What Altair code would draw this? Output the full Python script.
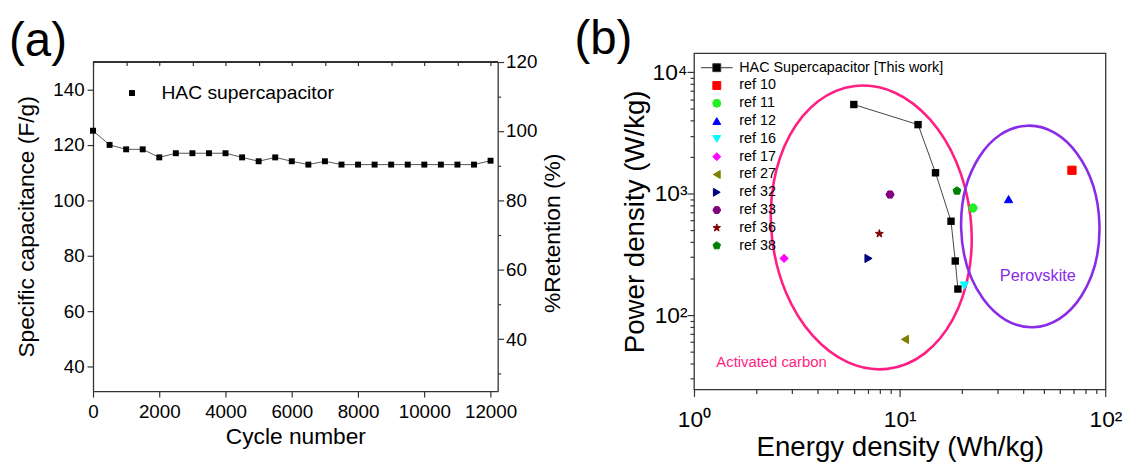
import altair as alt
import pandas as pd

# ---------------- panel (a) data ----------------
cycles = [0, 500, 1000, 1500, 2000, 2500, 3000, 3500, 4000, 4500, 5000, 5500, 6000,
          6500, 7000, 7500, 8000, 8500, 9000, 9500, 10000, 10500, 11000, 11500, 12000]
capacitance = [125.1, 120.0, 118.4, 118.4, 115.5, 117.0, 117.0, 117.0, 117.0, 115.5, 114.1, 115.5, 114.1,
               112.9, 114.1, 112.9, 112.9, 112.9, 112.9, 112.9, 112.9, 112.9, 112.9, 112.9, 114.3]
series_a = "HAC supercapacitor"

# ---------------- panel (b) data ----------------
hac_label = "HAC Supercapacitor [This work]"
hac_energy = [5.98, 12.27, 14.92, 17.75, 18.61, 19.17]
hac_power = [5420, 3703, 1486, 593, 279, 164]

ref_labels = ["ref 10", "ref 11", "ref 12", "ref 16", "ref 17", "ref 27", "ref 32", "ref 33", "ref 36", "ref 38"]
ref_energy = [68.7, 22.7, 33.8, 20.6, 2.74, 10.6, 7.05, 8.97, 7.96, 18.97]
ref_power = [1558, 762, 902, 175, 293, 63.1, 293, 984, 468, 1055]

region_labels = ["Activated carbon", "Perovskite"]
region_energy = [7.27, 43.1]        # ellipse centres
region_power = [527, 537]
region_text_energy = [1.284, 46.9]  # label anchors
region_text_power = [41.4, 210.5]

# ---------------- styles ----------------
FONT = "Liberation Sans"
FRAME = "#333333"
ref_colors = ["#FF0000", "#22EE22", "#0000FF", "#00FFFF", "#FF00FF", "#808000",
              "#000080", "#800080", "#800000", "#008000"]
HEX = "M1,0L0.5,0.866L-0.5,0.866L-1,0L-0.5,-0.866L0.5,-0.866Z"
STAR = ("M0,-1L0.235,-0.324L0.951,-0.309L0.38,0.124L0.588,0.809L0,0.4"
        "L-0.588,0.809L-0.38,0.124L-0.951,-0.309L-0.235,-0.324Z")
PENT = "M0,-1L0.951,-0.309L0.588,0.809L-0.588,0.809L-0.951,-0.309Z"
HAC_SYMBOL = "M-4,0H-1M1,0H4M-1,-1H1V1H-1Z"
ref_shapes = ["square", "circle", "triangle-up", "triangle-down", "diamond",
              "triangle-left", "triangle-right", HEX, STAR, PENT]
PINK = "#FF1F84"
PURPLE = "#8A2BE8"


def ellipse_path(rx):
    k = 0.5523
    return (f"M0,-1C{k*rx:.4f},-1,{rx:.4f},{-k:.4f},{rx:.4f},0"
            f"C{rx:.4f},{k:.4f},{k*rx:.4f},1,0,1"
            f"C{-k*rx:.4f},1,{-rx:.4f},{k:.4f},{-rx:.4f},0"
            f"C{-rx:.4f},{-k:.4f},{-k*rx:.4f},-1,0,-1Z")


major_test_a = "datum.value % 2000 == 0"
decade_test = "abs(round(log(datum.value)/LN10) - log(datum.value)/LN10) < 1e-6"

# ================= panel (a) =================
# panel (a) sits 8.6 px lower than panel (b): its y range starts below the group top
H_A = 342.0
TOP_A = 8.6
df_a = pd.DataFrame({"cycle": cycles, "cap": capacitance, "series": [series_a] * len(cycles)})
base_a = alt.Chart(df_a)
x_scale_a = alt.Scale(domain=[0, 12215], nice=False, zero=False)
y_scale_a = alt.Scale(domain=[31.25, 150], nice=False, zero=False, range=[H_A, TOP_A])

x_axis_a = alt.Axis(
    values=list(range(0, 12001, 1000)),
    labelExpr=f"{major_test_a} ? format(datum.value, 'd') : ''",
    tickSize={"condition": {"test": major_test_a, "value": 6}, "value": 3},
    labelFontSize=19, labelPadding=6, title="Cycle number", titleFontSize=23,
    titlePadding=4, labelFlush=False, labelOverlap=False,
    domain=True, domainColor=FRAME, domainWidth=1.3)
y_axis_a = alt.Axis(
    values=list(range(40, 151, 10)),
    labelExpr="datum.value % 20 == 0 ? format(datum.value, 'd') : ''",
    tickSize={"condition": {"test": "datum.value % 20 == 0", "value": 6}, "value": 3},
    labelFontSize=19, labelPadding=3, title="Specific capacitance (F/g)", titleFontSize=23,
    titlePadding=15, labelOverlap=False, domain=True, domainColor=FRAME, domainWidth=1.3)

line_a = base_a.mark_line(color="#555555", strokeWidth=1).encode(
    x=alt.X("cycle:Q", scale=x_scale_a, axis=x_axis_a),
    y=alt.Y("cap:Q", scale=y_scale_a, axis=y_axis_a))

legend_a = alt.Legend(title=None, orient="none", legendX=29.7, legendY=22 + TOP_A, labelFontSize=19.5,
                      labelFont=FONT, symbolSize=36, labelOffset=20, padding=0, labelLimit=400,
                      symbolStrokeWidth=0, labelColor="black")
pts_a = base_a.mark_point(filled=True, size=36, opacity=1).encode(
    x=alt.X("cycle:Q"), y=alt.Y("cap:Q"),
    shape=alt.Shape("series:N", scale=alt.Scale(domain=[series_a], range=["square"]), legend=legend_a),
    color=alt.Color("series:N", scale=alt.Scale(domain=[series_a], range=["black"]), legend=legend_a))

top_frame_a = base_a.mark_rule(color=FRAME, strokeWidth=1.3).encode(y=alt.datum(150))

main_a = alt.layer(line_a, pts_a, top_frame_a)

ret_a = base_a.transform_calculate(ret="datum.cap / 125 * 100").mark_point(opacity=0).encode(
    x=alt.X("cycle:Q", scale=x_scale_a, axis=None),
    y=alt.Y("ret:Q", scale=alt.Scale(domain=[25, 120], nice=False, zero=False, range=[H_A, TOP_A]),
            axis=alt.Axis(orient="right", values=list(range(30, 121, 10)),
                          labelExpr="datum.value % 20 == 0 ? format(datum.value, 'd') : ''",
                          tickSize={"condition": {"test": "datum.value % 20 == 0", "value": 6}, "value": 3},
                          labelFontSize=19, labelPadding=2, title="%Retention (%)", titleFontSize=23,
                          titleAngle=270, titleX=55.3, titleY=181.8, titleAlign="center",
                          titleBaseline="middle", labelOverlap=False,
                          domain=True, domainColor=FRAME, domainWidth=1.3)))

top_a = base_a.mark_point(opacity=0).encode(
    x=alt.X("cycle:Q", scale=x_scale_a,
            axis=alt.Axis(orient="top", values=list(range(0, 12001, 1000)), labels=False,
                          tickSize=4, offset=-(TOP_A + 4), domain=False, title=None)),
    y=alt.Y("cap:Q", scale=y_scale_a, axis=None))

label_a = alt.Chart(pd.DataFrame({"t": ["(a)"]})).mark_text(
    align="left", baseline="alphabetic", fontSize=48, font=FONT, color="black").encode(
    text="t:N", x=alt.value(-85), y=alt.value(3.3))

left = alt.layer(main_a, ret_a, top_a, label_a).resolve_scale(
    x="independent", y="independent").properties(
    width=409.4, height=H_A, view=alt.ViewBackground(stroke="transparent"))

# ================= panel (b) =================
x_scale_b = alt.Scale(type="log", domain=[1, 100], nice=False)
y_scale_b = alt.Scale(type="log", domain=[24.4, 14360], nice=False)
x_vals_b = [1, 2, 3, 4, 5, 6, 7, 8, 9, 10, 20, 30, 40, 50, 60, 70, 80, 90, 100]
y_vals_b = [30, 40, 50, 60, 70, 80, 90, 100, 200, 300, 400, 500, 600, 700, 800, 900,
            1000, 2000, 3000, 4000, 5000, 6000, 7000, 8000, 9000, 10000]
sup_expr = ("datum.value == 1 ? '10\u2070' : datum.value == 10 ? '10\u00b9' : "
            "datum.value == 100 ? '10\u00b2' : datum.value == 1000 ? '10\u00b3' : "
            "datum.value == 10000 ? '10\u2074' : ''")

x_axis_b = alt.Axis(values=x_vals_b, labelExpr=sup_expr,
                    tickSize={"condition": {"test": decade_test, "value": 7}, "value": 4},
                    labelFontSize=23, labelPadding=12, title="Energy density (Wh/kg)",
                    titleFontSize=28, titlePadding=3, labelFlush=False, labelOverlap=False)
y_axis_b = alt.Axis(values=y_vals_b, labelExpr=sup_expr,
                    tickSize={"condition": {"test": decade_test, "value": 7}, "value": 4},
                    labelFontSize=23, labelPadding=0, title="Power density (W/kg)",
                    titleFontSize=28, titlePadding=3, labelOverlap=False)

region_df = pd.DataFrame({"region": region_labels, "energy": region_energy, "power": region_power,
                          "tx": region_text_energy, "ty": region_text_power})

ell_pink = alt.Chart(region_df).transform_filter(alt.datum.region == region_labels[0]).mark_point(
    shape=ellipse_path(0.701), size=82944, angle=353.5, filled=False, stroke=PINK,
    strokeWidth=2.6, opacity=1).encode(
    x=alt.X("energy:Q", scale=x_scale_b, axis=x_axis_b),
    y=alt.Y("power:Q", scale=y_scale_b, axis=y_axis_b))
ell_purple = alt.Chart(region_df).transform_filter(alt.datum.region == region_labels[1]).mark_point(
    shape=ellipse_path(0.686), size=41616, angle=358.5, filled=False, stroke=PURPLE,
    strokeWidth=2.6, opacity=1).encode(x="energy:Q", y="power:Q")

text_ac = alt.Chart(region_df).transform_filter(alt.datum.region == region_labels[0]).mark_text(
    align="left", baseline="middle", fontSize=15, font=FONT, color=PINK).encode(
    x="tx:Q", y="ty:Q", text="region:N")
text_pv = alt.Chart(region_df).transform_filter(alt.datum.region == region_labels[1]).mark_text(
    align="center", baseline="middle", fontSize=16.5, font=FONT, color=PURPLE).encode(
    x="tx:Q", y="ty:Q", text="region:N")

hac_df = pd.DataFrame({"energy": hac_energy, "power": hac_power})
hac_line = alt.Chart(hac_df).mark_line(color="#444444", strokeWidth=1).encode(x="energy:Q", y="power:Q")
hac_pts = alt.Chart(hac_df).mark_point(shape="square", filled=True, size=56, color="black",
                                       opacity=1).encode(x="energy:Q", y="power:Q")

legend_domain = [hac_label] + ref_labels
legend_b = alt.Legend(title=None, orient="none", legendX=15.8, legendY=7.5, labelFontSize=14.5,
                      labelFont=FONT, symbolSize=64, labelOffset=15.5, rowPadding=3.0, padding=0,
                      symbolStrokeWidth=1, labelColor="black", symbolOpacity=1, labelLimit=400)
ref_df = pd.DataFrame({"label": ref_labels, "energy": ref_energy, "power": ref_power})
ref_pts = alt.Chart(ref_df).mark_point(filled=True, size=70, strokeWidth=1, opacity=1).encode(
    x="energy:Q", y="power:Q",
    fill=alt.Fill("label:N", scale=alt.Scale(domain=legend_domain, range=["black"] + ref_colors),
                  legend=legend_b),
    stroke=alt.Stroke("label:N", scale=alt.Scale(domain=legend_domain, range=["#333333"] + ref_colors),
                      legend=legend_b),
    shape=alt.Shape("label:N", scale=alt.Scale(domain=legend_domain, range=[HAC_SYMBOL] + ref_shapes),
                    legend=legend_b))

label_b = alt.Chart(pd.DataFrame({"t": ["(b)"]})).mark_text(
    align="left", baseline="alphabetic", fontSize=48, font=FONT, color="black").encode(
    text="t:N", x=alt.value(-121), y=alt.value(1.0))

right = alt.layer(ell_pink, ell_purple, text_ac, text_pv, hac_line, hac_pts, ref_pts, label_b).properties(
    width=416.3, height=340.3)

chart = alt.hconcat(left, right, spacing=8).resolve_scale(
    color="independent", shape="independent", fill="independent", stroke="independent"
).resolve_legend(
    color="independent", shape="independent", fill="independent", stroke="independent"
).properties(
    padding={"left": 0, "top": 5, "right": 0, "bottom": 0}
).configure(font=FONT).configure_view(
    stroke=FRAME, strokeWidth=1.3
).configure_axis(
    grid=False, domain=False, tickColor=FRAME, tickWidth=1.2,
    labelColor="black", titleColor="black", labelFont=FONT, titleFont=FONT,
    titleFontWeight="normal"
)

chart.save("out.html", embed_options={"renderer": "svg", "actions": False})
